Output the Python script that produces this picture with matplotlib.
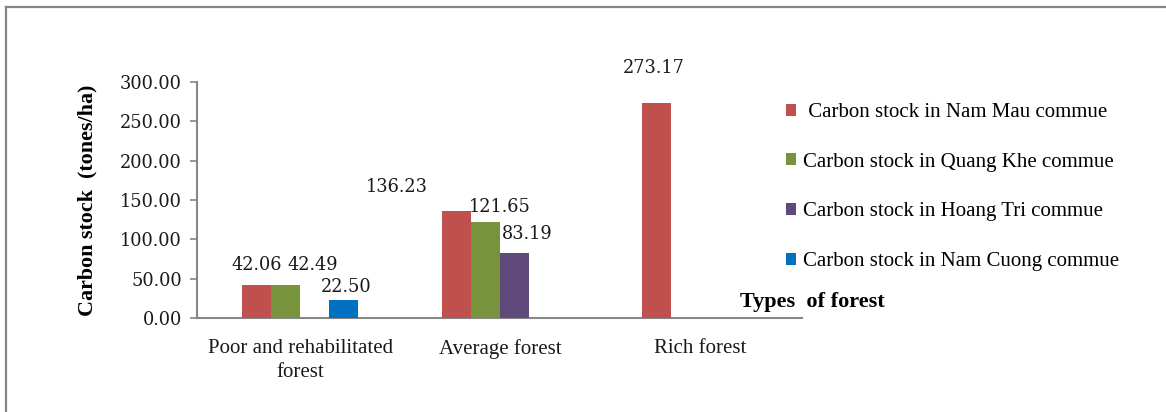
import numpy as np
import matplotlib.pyplot as plt
from matplotlib.lines import Line2D
from matplotlib.patches import Patch

# --- data ---
categories = ["Poor and rehabilitated\nforest", "Average forest", "Rich forest"]
series_names = [
    " Carbon stock in Nam Mau commue",
    "Carbon stock in Quang Khe commue",
    "Carbon stock in Hoang Tri commue",
    "Carbon stock in Nam Cuong commue",
]
nam_mau = [42.06, 136.23, 273.17]
quang_khe = [42.49, 121.65, 0.0]
hoang_tri = [0.0, 83.19, 0.0]
nam_cuong = [22.50, 0.0, 0.0]
y_ticks = [0, 50, 100, 150, 200, 250, 300]

# --- style ---
colors = ["#C0504D", "#77933C", "#604A7B", "#0070C0"]
axis_gray = "#868686"
serif = ["Liberation Serif", "DejaVu Serif"]
num_font = ["DejaVu Serif"]
# label offsets in pixels from the top-centre of each bar (series, category)
label_offsets = {
    (0, 0): (0, 20), (1, 0): (27, 20), (3, 0): (3, 13),
    (0, 1): (-60, 24), (1, 1): (14, 15), (2, 1): (13, 19),
    (0, 2): (-3, 35),
}

fig = plt.figure(figsize=(11.66, 4.12), dpi=100)
ax = fig.add_axes([0.169, 0.228, 0.519, 0.573])

x = np.arange(len(categories))
w = 0.145
all_series = [nam_mau, quang_khe, hoang_tri, nam_cuong]
for i, (vals, name) in enumerate(zip(all_series, series_names)):
    pos = x + (i - 1.5) * w
    bars = ax.bar(pos, vals, width=w, color=colors[i], label=name, zorder=3)
    for j, (b, v) in enumerate(zip(bars, vals)):
        if v == 0:
            continue
        dx, dy = label_offsets.get((i, j), (0, 15))
        ax.annotate(f"{v:.2f}", (b.get_x() + b.get_width() / 2, v),
                    xytext=(dx, dy), textcoords="offset pixels",
                    ha="center", va="center", fontsize=12.8,
                    family=num_font, color="#1a1a1a", annotation_clip=False)

ax.set_xlim(-0.515, 2.51)
ax.set_ylim(0, 300)
ax.set_yticks(y_ticks)
ax.set_yticklabels([f"{t:.2f}" for t in y_ticks], family=num_font,
                   fontsize=12.8, color="#1a1a1a")
ax.set_xticks(x)
ax.set_xticklabels(categories, family=serif, fontsize=15, color="#1a1a1a",
                   linespacing=1.35)
ax.tick_params(axis="x", length=0, pad=15)
ax.tick_params(axis="y", length=5, width=1.2, color=axis_gray, pad=6)

for s in ["top", "right"]:
    ax.spines[s].set_visible(False)
for s in ["left", "bottom"]:
    ax.spines[s].set_color(axis_gray)
    ax.spines[s].set_linewidth(1.5)

ax.set_ylabel("Carbon stock  (tones/ha)", family=serif, fontweight="bold",
              fontsize=15.8, labelpad=16)

fig.text(0.635, 0.268, "Types  of forest", family=serif, fontweight="bold",
         fontsize=16, ha="left", va="center")

handles = [Patch(facecolor=c, edgecolor="none") for c in colors]
fig.legend(handles, series_names, loc="upper left",
           bbox_to_anchor=(0.667, 0.770), frameon=False,
           prop={"family": serif, "size": 15}, handlelength=0.5,
           handleheight=0.5, handletextpad=0.3, labelspacing=1.47,
           borderaxespad=0)

# outer frame (left and top edges)
fig.add_artist(Line2D([0.0055, 0.0055], [0, 0.984], transform=fig.transFigure,
                      color=axis_gray, lw=1.6))
fig.add_artist(Line2D([0.0055, 1.0], [0.984, 0.984], transform=fig.transFigure,
                      color=axis_gray, lw=1.6))

fig.savefig("out.png", dpi=100, facecolor="white")
